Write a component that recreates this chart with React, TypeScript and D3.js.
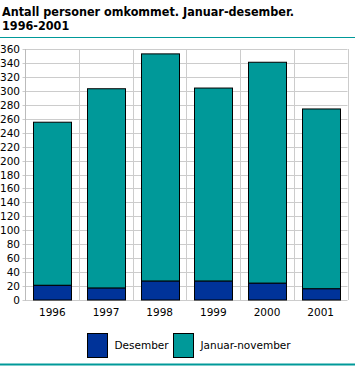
import React from "react";
import * as d3 from "d3";

const years = ["1996", "1997", "1998", "1999", "2000", "2001"];
const desember = [21, 17, 27, 27, 24, 16];
const januarNovember = [234, 286, 326, 277, 317, 258];
const yTicks = d3.range(0, 361, 20);
const seriesNames = ["Desember", "Januar-november"];
const colors = ["#003399", "#009999"];

export default function App() {
  const W = 355, H = 366;
  const left = 25.5, right = 347.5, top = 49, bottom = 300;
  const x = d3.scaleBand<string>().domain(years).range([left, right]).paddingInner(0).paddingOuter(0);
  const y = d3.scaleLinear().domain([0, 360]).range([bottom, top]);
  const bw = 38;
  const font = "'DejaVu Sans', Verdana, sans-serif";
  const titleFont = "'DejaVu Sans Condensed', 'DejaVu Sans', sans-serif";
  return (
    <svg width={W} height={H} style={{ position: "absolute", left: 0, top: 0, background: "#fff" }}>
      <text x={2} y={16} fontFamily={titleFont} fontSize={12.5} fontWeight="bold" fill="#000">Antall personer omkommet. Januar-desember.</text>
      <text x={2} y={29.5} fontFamily={titleFont} fontSize={12.5} fontWeight="bold" fill="#000">1996-2001</text>
      <line x1={0} x2={W} y1={37.5} y2={37.5} stroke="#009999" strokeWidth={1} />
      {yTicks.map((t) => (
        <g key={t}>
          <line x1={left - 3} x2={right} y1={Math.round(y(t)) + 0.5} y2={Math.round(y(t)) + 0.5} stroke="#cccccc" />
          <text x={20} y={Math.round(y(t)) + 4} textAnchor="end" fontFamily={font} fontSize={10.5} fill="#000">{t}</text>
        </g>
      ))}
      {years.map((yr) => (
        <line key={yr} x1={Math.round((x(yr) as number) + x.bandwidth()) + 0.5} x2={Math.round((x(yr) as number) + x.bandwidth()) + 0.5} y1={top} y2={bottom} stroke="#cccccc" />
      ))}
      <line x1={left} x2={left} y1={top} y2={bottom + 0.5} stroke="#bbbbbb" />
      {years.map((yr, i) => {
        const cx = (x(yr) as number) + x.bandwidth() / 2;
        const x0 = Math.round(cx - bw / 2) + 0.5;
        const d = desember[i], j = januarNovember[i];
        return (
          <g key={yr}>
            <rect x={x0} y={y(d + j)} width={bw} height={y(d) - y(d + j)} fill={colors[1]} stroke="#000" strokeWidth={1} />
            <rect x={x0} y={y(d)} width={bw} height={y(0) - y(d)} fill={colors[0]} stroke="#000" strokeWidth={1} />
            <text x={cx} y={316} textAnchor="middle" fontFamily={font} fontSize={10.5} fill="#000">{yr}</text>
          </g>
        );
      })}
      {seriesNames.map((s, i) => {
        const bx = i === 0 ? 87.5 : 173.5;
        return (
          <g key={s}>
            <rect x={bx} y={333.5} width={20} height={24} fill={colors[i]} stroke="#000" />
            <text x={bx + 27} y={349} fontFamily={font} fontSize={10.5} fill="#000">{s}</text>
          </g>
        );
      })}
      <line x1={0} x2={W} y1={364.5} y2={364.5} stroke="#009999" strokeWidth={2} />
    </svg>
  );
}
